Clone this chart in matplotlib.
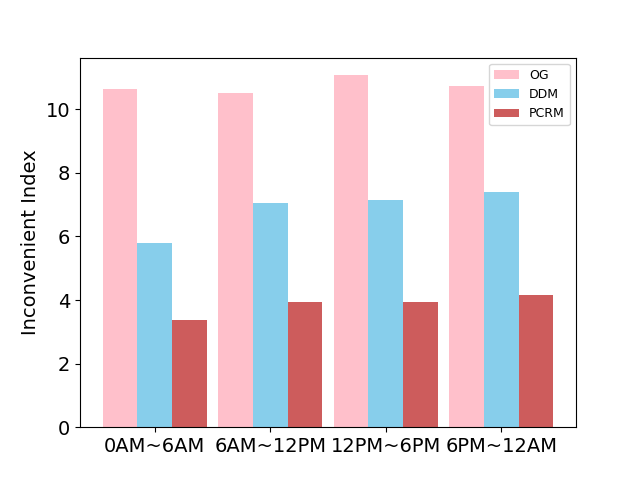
import numpy as np
import matplotlib
matplotlib.use('Agg')
import matplotlib.pyplot as plt

periods = ['0AM~6AM', '6AM~12PM', '12PM~6PM', '6PM~12AM']
og = [10.63, 10.50, 11.07, 10.73]
ddm = [5.79, 7.04, 7.14, 7.39]
pcrm = [3.37, 3.94, 3.94, 4.16]

x = np.arange(len(periods))
width = 0.3

fig, ax = plt.subplots(figsize=(6.4, 4.8), dpi=100)
ax.bar(x - width, og, width, color='pink', label='OG')
ax.bar(x, ddm, width, color='skyblue', label='DDM')
ax.bar(x + width, pcrm, width, color='indianred', label='PCRM')

ax.set_xticks(x)
ax.set_xticklabels(periods, fontsize=14)
ax.tick_params(axis='y', labelsize=14)
ax.set_ylabel('Inconvenient Index', fontsize=14)
ax.legend(fontsize=9)

plt.savefig('out.png')
